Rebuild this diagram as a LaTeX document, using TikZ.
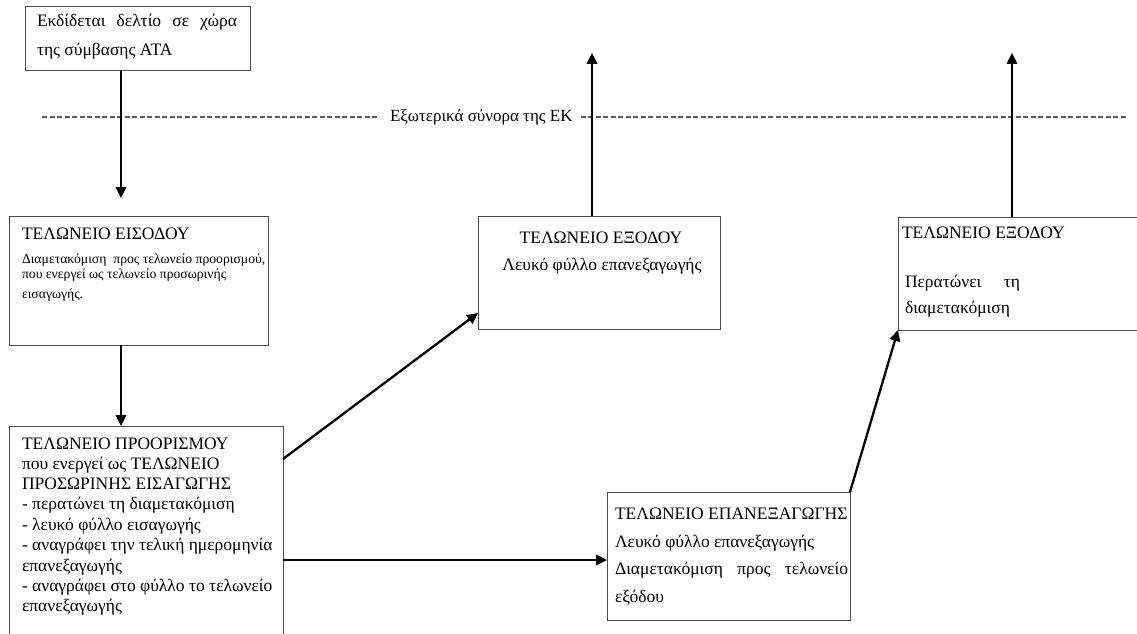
\documentclass[tikz,border=0pt]{standalone}
\usepackage{fontspec}
\setmainfont{Liberation Serif}
\usetikzlibrary{arrows.meta}
\tikzset{
  box/.style={draw=black!70, line width=0.8pt, inner sep=0pt, outer sep=0pt, anchor=north west},
  big/.style={anchor=base west, inner sep=0pt, outer sep=0pt, font=\fontsize{17.5}{20}\selectfont},
  bigc/.style={anchor=base, inner sep=0pt, outer sep=0pt, font=\fontsize{17.5}{20}\selectfont},
  small/.style={anchor=base west, inner sep=0pt, outer sep=0pt, font=\fontsize{13.7}{16}\selectfont},
  arr/.style={line width=2.3pt, -{Triangle[length=11pt,width=10.5pt]}},
  border/.style={draw=black!65, line width=1.1pt, dash pattern=on 5pt off 2.5pt},
}
\begin{document}
\begin{tikzpicture}[x=1pt,y=-1pt]
\useasboundingbox (0,0) rectangle (1137,634);
% boxes
\node[box, minimum width=225pt, minimum height=64pt] (b1) at (25,6) {};
\node[box, minimum width=259pt, minimum height=129pt] (b2) at (9,216) {};
\node[box, minimum width=274pt, minimum height=230pt] (b3) at (9,426) {};
\node[box, minimum width=242pt, minimum height=113pt] (b4) at (478,216) {};
\node[box, minimum width=260pt, minimum height=113pt] (b5) at (898,217) {};
\node[box, minimum width=243pt, minimum height=128pt] (b6) at (607,492) {};
% texts box1
\node[big] (t11) at (37,27) {\hbox to 200pt{Εκδίδεται\hfill δελτίο\hfill σε\hfill χώρα}};
\node[big] (t12) at (37,56) {της σύμβασης ATA};
% box2
\node[big] (t21) at (22,239) {ΤΕΛΩΝΕΙΟ ΕΙΣΟΔΟΥ};
\node[small] (t22) at (22,263) {Διαμετακόμιση\ \ προς τελωνείο προορισμού,};
\node[small] (t23) at (22,278) {που ενεργεί ως τελωνείο προσωρινής};
\node[small] (t24) at (22,298) {εισαγωγής.};
% box3
\node[big] (t31) at (22,449) {ΤΕΛΩΝΕΙΟ ΠΡΟΟΡΙΣΜΟΥ};
\node[big] (t32) at (22,469) {που ενεργεί ως ΤΕΛΩΝΕΙΟ};
\node[big] (t33) at (22,489) {ΠΡΟΣΩΡΙΝΗΣ ΕΙΣΑΓΩΓΗΣ};
\node[big] (t34) at (22,509) {- περατώνει τη διαμετακόμιση};
\node[big] (t35) at (22,530) {- λευκό φύλλο εισαγωγής};
\node[big] (t36) at (22,550) {- αναγράφει την τελική ημερομηνία};
\node[big] (t37) at (22,571) {επανεξαγωγής};
\node[big] (t38) at (22,591) {- αναγράφει στο φύλλο το τελωνείο};
\node[big] (t39) at (22,611) {επανεξαγωγής};
% box4
\node[bigc] (t41) at (601,243) {ΤΕΛΩΝΕΙΟ ΕΞΟΔΟΥ};
\node[bigc] (t42) at (602,270) {Λευκό φύλλο επανεξαγωγής};
% box5
\node[big] (t51) at (902,238) {ΤΕΛΩΝΕΙΟ ΕΞΟΔΟΥ};
\node[big] (t52) at (905,287) {\hbox to 115pt{Περατώνει\hfill τη}};
\node[big] (t53) at (905,313) {διαμετακόμιση};
% box6
\node[big] (t61) at (615,519) {ΤΕΛΩΝΕΙΟ ΕΠΑΝΕΞΑΓΩΓΗΣ};
\node[big] (t62) at (615,547) {Λευκό φύλλο επανεξαγωγής};
\node[big] (t63) at (615,574) {\hbox to 233pt{Διαμετακόμιση\hfill προς\hfill τελωνείο}};
\node[big] (t64) at (615,602) {εξόδου};
% border line
\node[big, font=\fontsize{17}{20}\selectfont] (lbl) at (390,121) {Εξωτερικά σύνορα της ΕΚ};
\coordinate (dl) at (42,117);
\coordinate (dr) at (1128,117);
\draw[border] (dl) -- ([xshift=-11pt]lbl.west |- dl);
\draw[border] ([xshift=8pt]lbl.east |- dl) -- (dr);
% arrows
\coordinate (e1) at (121,198);
\coordinate (e2) at (592,53);
\coordinate (e3) at (1012,53);
\draw[arr] (b1.south -| e1) -- (e1);
\draw[arr] (b2.south -| e1) -- (b3.north -| e1);
\draw[arr] (b4.north -| e2) -- (e2);
\draw[arr] (b5.north -| e3) -- (e3);
\draw[arr] ([yshift=-33pt]b3.north east) -- ([yshift=16pt]b4.south west);
\draw[arr] ([yshift=-134pt]b3.north east) -- ([yshift=-68pt]b6.north west);
\draw[arr] (b6.north east) -- (b5.south west);
\end{tikzpicture}
\end{document}
